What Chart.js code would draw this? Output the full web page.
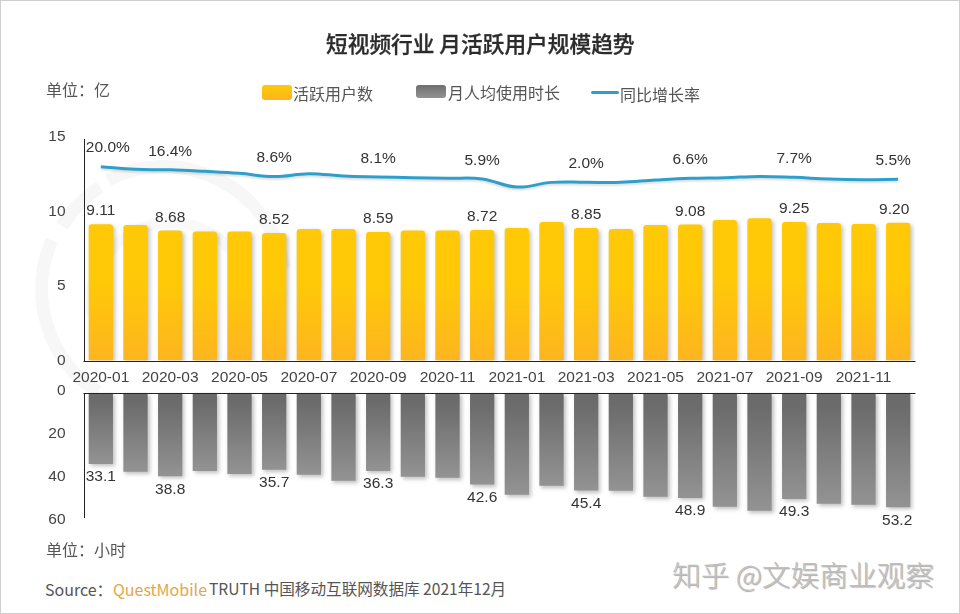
<!DOCTYPE html>
<html lang="zh"><head><meta charset="utf-8">
<script src="https://cdn.jsdelivr.net/npm/chart.js@4/dist/chart.umd.js"></script>
<style>
html,body{margin:0;padding:0;background:#fff;}
#page{position:relative;width:960px;height:614px;overflow:hidden;background:#fff;box-sizing:border-box;
  font-family:"Noto Sans CJK SC","Liberation Sans",sans-serif;}
#frame{position:absolute;inset:0;border:1.5px solid #cfcfcf;box-sizing:border-box;pointer-events:none;z-index:5;}
canvas{position:absolute;left:0;}
#logo{position:absolute;left:0;top:0;}
.t{position:absolute;white-space:nowrap;line-height:1;font-size:16px;color:#555;}
.sw{position:absolute;}
</style></head>
<body><div id="page">
<svg id="logo" width="960" height="614" fill="none" stroke="#f7f7f7">
  <path d="M98 392 A122 122 0 0 1 52 240" stroke-width="13"/>
  <path d="M62 226 A122 122 0 0 1 100 187" stroke-width="13"/>
  <path d="M108 180 A122 122 0 0 1 284 268" stroke-width="13"/>
  <path d="M92 315 A80 80 0 0 1 240 262" stroke-width="11" stroke="#f9f9f9"/>
</svg>
<canvas id="top" width="960" height="385" style="top:0"></canvas>
<canvas id="bot" width="960" height="160" style="top:385px"></canvas>
<div class="t" style="left:326px;top:32px;font-size:21.7px;font-weight:500;color:#2b2b2b;-webkit-text-stroke:.3px #2b2b2b">短视频行业 月活跃用户规模趋势</div>
<div class="t" style="left:46px;top:81px">单位：亿</div>
<div class="sw" style="left:262px;top:85px;width:30px;height:15px;border-radius:3px;background:linear-gradient(#ffc907,#fdb51f)"></div>
<div class="t" style="left:293px;top:85px">活跃用户数</div>
<div class="sw" style="left:416px;top:85px;width:30px;height:13px;border-radius:3px;background:linear-gradient(#6e6e6e,#929292)"></div>
<div class="t" style="left:448px;top:84px">月人均使用时长</div>
<div class="sw" style="left:591px;top:91px;width:28px;height:3px;border-radius:2px;background:#2e9fca"></div>
<div class="t" style="left:620px;top:86px">同比增长率</div>
<div class="t" style="left:46px;top:541px">单位：小时</div>
<div class="t" style="left:45px;top:581px">Source：</div>
<div class="t" style="left:113px;top:581px;color:#e3a64a">QuestMobile</div>
<div class="t" style="left:209px;top:581px;font-size:15.6px">TRUTH 中国移动互联网数据库 2021年12月</div>
<div class="t" style="left:672px;top:560px;font-size:28.7px;font-weight:300;color:#c0c0c0;text-shadow:1px 1px 1px #a8a8a8">知乎 @文娱商业观察</div>
<div id="frame"></div>
</div>
<script>
const months = ["2020-01","2020-02","2020-03","2020-04","2020-05","2020-06","2020-07","2020-08","2020-09","2020-10","2020-11","2020-12",
                "2021-01","2021-02","2021-03","2021-04","2021-05","2021-06","2021-07","2021-08","2021-09","2021-10","2021-11","2021-12"];
const activeUsers = [9.11,9.05,8.68,8.62,8.62,8.52,8.78,8.78,8.59,8.68,8.68,8.72,
                     8.85,9.25,8.85,8.78,9.05,9.08,9.38,9.50,9.25,9.18,9.12,9.20];
const growthRate = [20.0,16.9,16.4,14.6,12.3,8.6,11.9,9.2,8.1,7.3,6.6,5.9,
                    -3.5,1.9,2.0,2.0,4.6,6.6,7.3,8.8,7.7,5.8,5.0,5.5];
const hoursPerUser = [33.1,36.7,38.8,36.3,37.7,35.7,38.1,40.9,36.3,39.0,39.5,42.6,
                      47.4,43.2,45.4,45.5,48.3,48.9,52.9,54.8,49.3,51.5,52.0,53.2];
const labelled = [0,2,5,8,11,14,17,20,23];
const TEXT = '#333';
const NUM_FONT = '15.5px "Liberation Sans", sans-serif';

function barFill(c1, c2, mid){
  return ctx=>{
    const {chart,dataIndex,dataset}=ctx;
    if(!chart.chartArea) return c1;
    const s=chart.scales[dataset.yAxisID||'y'];
    const y0=s.getPixelForValue(0), y1=s.getPixelForValue(dataset.data[dataIndex]);
    const g=chart.ctx.createLinearGradient(0,Math.min(y0,y1),0,Math.max(y0,y1));
    g.addColorStop(0,c1); g.addColorStop(mid,c1); g.addColorStop(1,c2);
    return g;
  };
}
const shadow={id:'shadow',
  beforeDatasetDraw(chart,a){const c=chart.ctx;c.save();
    const isLine=chart.getDatasetMeta(a.index).type==='line';
    c.shadowColor=isLine?'rgba(0,0,0,.12)':'rgba(0,0,0,.25)';
    c.shadowBlur=isLine?2:4;c.shadowOffsetX=isLine?0:2;c.shadowOffsetY=2;},
  afterDatasetDraw(chart){chart.ctx.restore();}
};
const valueLabels={id:'valueLabels',
  afterDatasetsDraw(chart){
    const c=chart.ctx;c.save();c.font=NUM_FONT;c.fillStyle=TEXT;c.textAlign='center';c.textBaseline='middle';
    chart.data.datasets.forEach((d,i)=>{
      const m=chart.getDatasetMeta(i);
      labelled.forEach((k,n)=>{
        const e=m.data[k];
        const dx=d.labelDx?(d.labelDx[n]||0):0;
        c.fillText(d.fmt(d.data[k]),e.x+dx,e.y+d.labelDy);
      });
    });
    c.restore();
  }
};
const axisLines={id:'axisLines',
  afterDraw(chart,_,o){
    const c=chart.ctx,a=chart.chartArea,s=chart.scales.y;
    c.save();c.strokeStyle='#222';c.lineWidth=1;c.beginPath();
    const y=Math.round(s.getPixelForValue(0))+.5;
    c.moveTo(a.left,y);c.lineTo(a.right,y);
    const x=Math.round(a.left)+.5;
    c.moveTo(x,y);c.lineTo(x,s.getPixelForValue(o.axisEnd));
    c.stroke();c.restore();
  }
};
function noPad(s){s.paddingTop=0;s.paddingBottom=0;s.paddingLeft=0;s.paddingRight=0;}
Chart.defaults.font.family='"Liberation Sans", sans-serif';
Chart.defaults.animation=false;

new Chart(document.getElementById('top'),{
  type:'bar',
  data:{labels:months,datasets:[
    {type:'line',label:'同比增长率',data:growthRate,yAxisID:'y1',order:0,borderColor:'#2e9fca',borderWidth:3,
     pointRadius:0,tension:.4,labelDy:-18.5,labelDx:[7,0,0,0,0,0,0,0,-5],fmt:v=>v.toFixed(1)+'%'},
    {label:'活跃用户数',data:activeUsers,yAxisID:'y',order:1,barPercentage:.7,categoryPercentage:1,
     borderRadius:{topLeft:3,topRight:3},borderSkipped:'bottom',
     backgroundColor:barFill('#ffc907','#fdb51f',.4),labelDy:-13,labelDx:[0,0,0,0,0,0,0,0,-4],fmt:v=>v.toFixed(2)}
  ]},
  options:{responsive:false,maintainAspectRatio:false,
    layout:{padding:{left:0,right:44.5,top:136,bottom:0}},
    plugins:{legend:{display:false},tooltip:{enabled:false},axisLines:{axisEnd:14.8}},
    scales:{
      x:{grid:{display:false,drawTicks:false},border:{display:false},
         afterFit(s){s.height=24.5;noPad(s);},
         ticks:{autoSkip:false,maxRotation:0,minRotation:0,padding:8,color:'#444',font:{size:15.5},
                callback(v,i){return i%2===0?months[i]:'';}}},
      y:{min:0,max:15,grid:{display:false,drawTicks:false},border:{display:false},
         afterFit(s){s.width=83.5;noPad(s);},
         ticks:{stepSize:5,padding:18,color:'#444',labelOffset:.5,font:{size:15.5}}},
      y1:{display:false,min:-203.6,max:55.4}
    }
  },
  plugins:[shadow,valueLabels,axisLines]
});

new Chart(document.getElementById('bot'),{
  type:'bar',
  data:{labels:months,datasets:[
    {label:'月人均使用时长',data:hoursPerUser,yAxisID:'y',barPercentage:.7,categoryPercentage:1,
     borderRadius:{bottomLeft:3,bottomRight:3},borderSkipped:'top',
     backgroundColor:barFill('#6b6b6b','#939393',.12),labelDy:13,labelDx:[0,0,0,0,0,0,0,0,-1],fmt:v=>v.toFixed(1)}
  ]},
  options:{responsive:false,maintainAspectRatio:false,
    layout:{padding:{left:0,right:44.5,top:7.7,bottom:23}},
    plugins:{legend:{display:false},tooltip:{enabled:false},axisLines:{axisEnd:58.2}},
    scales:{
      x:{display:false},
      y:{reverse:true,min:0,max:60,grid:{display:false,drawTicks:false},border:{display:false},
         afterFit(s){s.width=83.5;noPad(s);},
         ticks:{stepSize:20,padding:18,color:'#444',labelOffset:-2,font:{size:15.5}}}
    }
  },
  plugins:[shadow,valueLabels,axisLines]
});
</script>
</body></html>
